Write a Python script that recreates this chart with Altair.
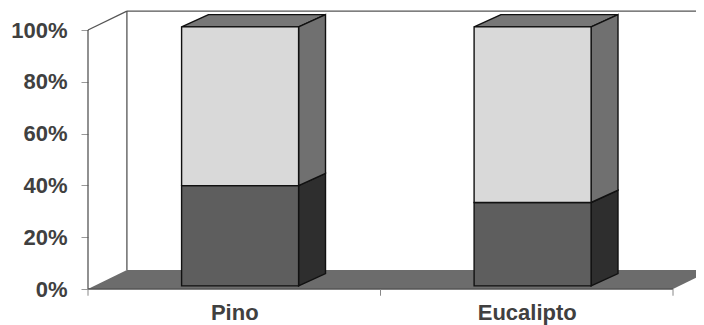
import altair as alt
import pandas as pd

categories = ["Pino", "Eucalipto"]
lower_share = [38.7, 32.2]
upper_share = [61.3, 67.8]
y_ticks = [0, 20, 40, 60, 80, 100]

PW, PH = 608, 277
XMAX, YMAX = PW / 292.5, PH / 2.59
xs = alt.Scale(domain=[0, XMAX], nice=False, zero=False)
ys = alt.Scale(domain=[0, YMAX], nice=False, zero=False)

x_axis = alt.Axis(
    values=[0.5, 1.5], labelExpr=f"datum.value < 1 ? '{categories[0]}' : '{categories[1]}'",
    tickSize=0, domain=False, grid=False, labelPadding=13, labelFontSize=22, title=None,
    labelFontWeight="bold", labelColor="#404040", labelFont="Liberation Sans", labelFlush=False)
y_axis = alt.Axis(
    values=y_ticks, labelExpr="datum.value + '%'", tickSize=7, tickColor="#999999", title=None,
    domain=False, grid=False, labelPadding=14, labelFontSize=22, labelFontWeight="bold",
    labelColor="#404040", labelFont="Liberation Sans")
X = lambda f: alt.X(f, type="quantitative", scale=xs, axis=x_axis)
Y = lambda f: alt.Y(f, type="quantitative", scale=ys, axis=y_axis)

WALL_DX, WALL_DY = 0.133, 7.3
BAR_W, BAR_DX, BAR_DY = 0.40, 0.092, 4.75
BASE, SHIFT = 1.2, 0.02

DARK_LINE = "#555555"
EDGE = "#111111"

# floor
floor = pd.DataFrame({"y": [0, WALL_DY], "x": [0, WALL_DX], "x2": [2, 2 + WALL_DX]})
floor_l = alt.Chart(floor).mark_area(orient="horizontal", color="#6c6c6c", clip=True).encode(
    y=Y("y"), x=X("x"), x2="x2")

# wall / axis outline
outline = pd.DataFrame([
    ("a", 0, 0, 0), ("a", 1, 0, 100),
    ("b", 0, 0, 100), ("b", 1, WALL_DX, 100 + WALL_DY),
    ("c", 0, WALL_DX, WALL_DY), ("c", 1, WALL_DX, 100 + WALL_DY),
    ("d", 0, WALL_DX, 100 + WALL_DY), ("d", 1, XMAX, 100 + WALL_DY),
    ("e", 0, 0, 0), ("e", 1, 2, 0),
], columns=["g", "o", "x", "y"])
outline_l = alt.Chart(outline).mark_line(color=DARK_LINE, strokeWidth=1.3).encode(
    x=X("x"), y=Y("y"), detail="g:N", order="o:Q")

# tick marks on x axis
tick_df = pd.DataFrame({"x": [0, 1, 2], "y": [0, 0, 0], "y2": [-2.6, -2.6, -2.6]})
ticks_l = alt.Chart(tick_df).mark_rule(color="#888888", strokeWidth=1).encode(
    x=X("x"), y=Y("y"), y2="y2")

rect_rows, side_rows, top_rows = [], [], []
for i, cat in enumerate(categories):
    x0 = i + 0.5 - BAR_W / 2 + SHIFT
    x1 = x0 + BAR_W
    lo = BASE
    for name, val in (("lower", lower_share[i]), ("upper", upper_share[i])):
        hi = lo + val
        rect_rows.append(dict(cat=cat, s=name, x=x0, x2=x1, y=lo, y2=hi))
        key = f"{cat}-{name}"
        side_rows.append(dict(k=key, s=name, x=x1, y=lo, y2=hi))
        side_rows.append(dict(k=key, s=name, x=x1 + BAR_DX, y=lo + BAR_DY, y2=hi + BAR_DY))
        lo = hi
    top_rows.append(dict(k=cat, y=lo, x=x0, x2=x1))
    top_rows.append(dict(k=cat, y=lo + BAR_DY, x=x0 + BAR_DX, x2=x1 + BAR_DX))

rects, sides = pd.DataFrame(rect_rows), pd.DataFrame(side_rows)

top_l = alt.Chart(pd.DataFrame(top_rows)).mark_area(
    orient="horizontal", color="#777777", stroke=EDGE, strokeWidth=1.4
).encode(y=Y("y"), x=X("x"), x2="x2", detail="k:N")


def side_layer(name, colour):
    return alt.Chart(sides[sides.s == name]).mark_area(color=colour, stroke=EDGE, strokeWidth=1.4).encode(
        x=X("x"), y=Y("y"), y2="y2", detail="k:N")


def front_layer(name, colour):
    return alt.Chart(rects[rects.s == name]).mark_rect(color=colour, stroke=EDGE, strokeWidth=1.4).encode(
        x=X("x"), x2="x2", y=Y("y"), y2="y2")


chart = alt.layer(
    floor_l, outline_l, ticks_l, top_l,
    side_layer("lower", "#2e2e2e"), side_layer("upper", "#707070"),
    front_layer("lower", "#5e5e5e"), front_layer("upper", "#d9d9d9"),
).properties(
    width=PW, height=PH,
    autosize=alt.AutoSizeParams(type="none"),
    padding={"left": 80, "top": 4, "right": 0, "bottom": 36},
).configure_view(stroke=None)

chart.save("out.html", embed_options={"renderer": "svg", "actions": False})
